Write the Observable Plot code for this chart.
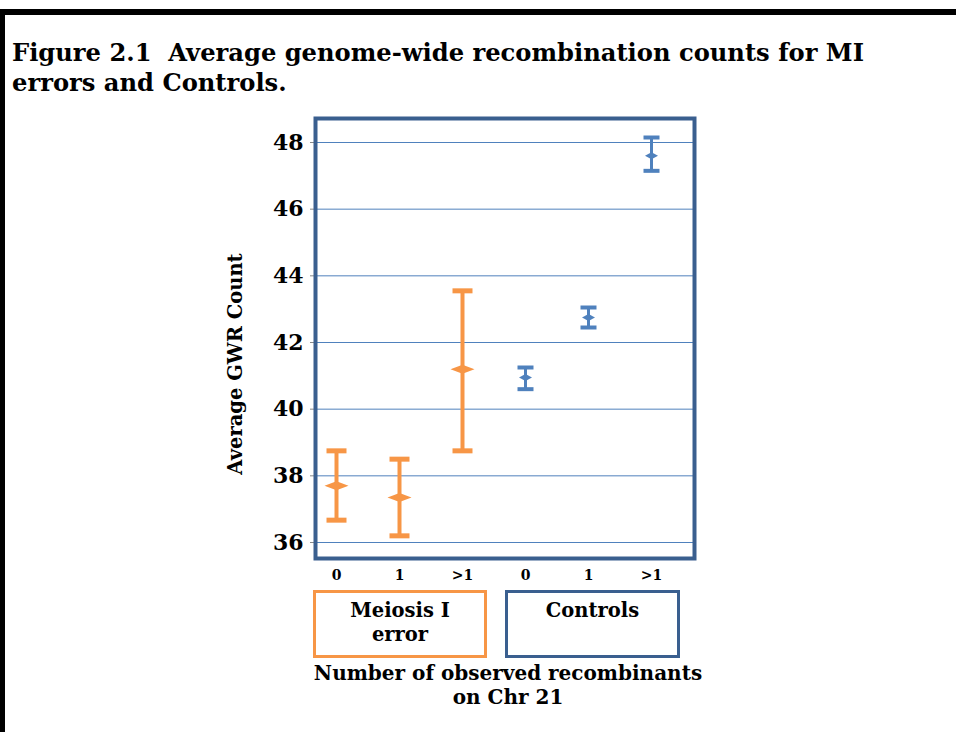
<!DOCTYPE html>
<html>
<head>
<meta charset="utf-8">
<script src="https://cdn.jsdelivr.net/npm/d3@7"></script>
<script src="https://cdn.jsdelivr.net/npm/@observablehq/plot@0.6"></script>
<style>
  html, body { margin: 0; padding: 0; background: #fff; }
  #page { position: relative; width: 956px; height: 732px; overflow: hidden; background: #fff;
          font-family: "DejaVu Serif", "Liberation Serif", serif; font-weight: bold; color: #000; }
  #topbar { position: absolute; left: 0; top: 9px; width: 956px; height: 6px; background: #000; }
  #leftbar { position: absolute; left: 0; top: 9px; width: 5px; height: 723px; background: #000; }
  #title { position: absolute; left: 12px; top: 38px; font-size: 24.2px; line-height: 30px; white-space: nowrap; }
  #chart { position: absolute; left: 0; top: 100px; }
  #ytitle { position: absolute; left: 235px; top: 364px; font-size: 19.5px; white-space: nowrap;
            transform: translate(-50%, -50%) rotate(-90deg); }
  .grp { position: absolute; top: 590px; height: 56px; border: 3px solid; text-align: center;
         font-size: 19.5px; line-height: 24px; padding-top: 6px; box-sizing: content-box; }
  #xtitle { position: absolute; left: 508px; top: 661px; transform: translateX(-50%); text-align: center;
            font-size: 20px; line-height: 24px; white-space: nowrap; }
</style>
</head>
<body>
<div id="page">
  <div id="topbar"></div>
  <div id="leftbar"></div>
  <div id="title"></div>
  <div id="chart"></div>
  <div id="ytitle"></div>
  <div id="xtitle"></div>
</div>
<script>
// ---- data ----
const groups = ["Meiosis I error", "Meiosis I error", "Meiosis I error", "Controls", "Controls", "Controls"];
const recombinants = ["0", "1", ">1", "0", "1", ">1"];
const means = [37.7, 37.35, 41.2, 40.95, 42.75, 47.6];
const lower = [36.67, 36.2, 38.75, 40.6, 42.45, 47.15];
const upper = [38.75, 38.5, 43.55, 41.25, 43.05, 48.15];
const yTicks = [36, 38, 40, 42, 44, 46, 48];
const groupLabels = ["Meiosis I<br>error", "Controls"];
const titleText = "Figure 2.1&nbsp; Average genome-wide recombination counts for MI<br>errors and Controls.";
const yTitle = "Average GWR Count";
const xTitle = "Number of observed recombinants<br>on Chr 21";

const orange = "#F79646";
const blue = "#4F81BD";
const frameBlue = "#3A5F8F";

const rows = means.map((m, i) => ({
  i, group: groups[i], label: recombinants[i], mean: m, lo: lower[i], hi: upper[i]
}));
const mi = rows.filter(d => d.group === groups[0]);
const ctl = rows.filter(d => d.group !== groups[0]);

const cap = w => ({ draw(ctx) { ctx.moveTo(-w / 2, 0); ctx.lineTo(w / 2, 0); } });
const diamond = (w, h) => ({ draw(ctx) {
  ctx.moveTo(-w / 2, 0); ctx.lineTo(0, -h / 2); ctx.lineTo(w / 2, 0); ctx.lineTo(0, h / 2); ctx.closePath();
} });

const serif = "'DejaVu Serif', 'Liberation Serif', serif";

const chart = Plot.plot({
  width: 956,
  height: 500,
  marginLeft: 315,
  marginRight: 262,
  marginTop: 18,
  marginBottom: 42,
  style: { fontFamily: serif, fontWeight: "bold", color: "#000", background: "transparent" },
  x: { type: "point", domain: rows.map(d => d.i), padding: 0, insetLeft: 20, insetRight: 43 },
  y: { domain: [36, 48], insetTop: 24, insetBottom: 16 },
  marks: [
    Plot.gridY(yTicks, { stroke: blue, strokeOpacity: 1, strokeWidth: 1 }),
    Plot.axisY(yTicks, { tickSize: 5, tickPadding: 7, stroke: "#888", fontSize: 22, fontWeight: "bold", label: null, fill: "#000" }),
    Plot.axisX({ tickSize: 0, tickPadding: 12, fontSize: 14, fontWeight: "bold", label: null,
                 tickFormat: i => recombinants[i], fill: "#000" }),
    Plot.ruleX(mi, { x: "i", y1: "lo", y2: "hi", stroke: orange, strokeWidth: 4 }),
    Plot.ruleX(ctl, { x: "i", y1: "lo", y2: "hi", stroke: blue, strokeWidth: 3 }),
    Plot.dot(mi, { x: "i", y: "lo", symbol: cap(20), stroke: orange, strokeWidth: 5, fill: "none" }),
    Plot.dot(mi, { x: "i", y: "hi", symbol: cap(20), stroke: orange, strokeWidth: 5, fill: "none" }),
    Plot.dot(ctl, { x: "i", y: "lo", symbol: cap(16), stroke: blue, strokeWidth: 4, fill: "none" }),
    Plot.dot(ctl, { x: "i", y: "hi", symbol: cap(16), stroke: blue, strokeWidth: 4, fill: "none" }),
    Plot.dot(mi, { x: "i", y: "mean", symbol: diamond(24, 9), fill: orange, stroke: "none" }),
    Plot.dot(ctl, { x: "i", y: "mean", symbol: diamond(13, 7), fill: blue, stroke: "none" }),
    Plot.frame({ stroke: frameBlue, strokeWidth: 4 })
  ]
});
document.getElementById("chart").appendChild(chart);

document.getElementById("title").innerHTML = titleText;
document.getElementById("ytitle").textContent = yTitle;
document.getElementById("xtitle").innerHTML = xTitle;

const page = document.getElementById("page");
const boxes = [
  { label: groupLabels[0], color: orange, left: 313, width: 168 },
  { label: groupLabels[1], color: frameBlue, left: 505, width: 169 }
];
for (const b of boxes) {
  const d = document.createElement("div");
  d.className = "grp";
  d.style.left = b.left + "px";
  d.style.width = b.width + "px";
  d.style.borderColor = b.color;
  d.innerHTML = b.label;
  page.appendChild(d);
}
</script>
</body>
</html>
